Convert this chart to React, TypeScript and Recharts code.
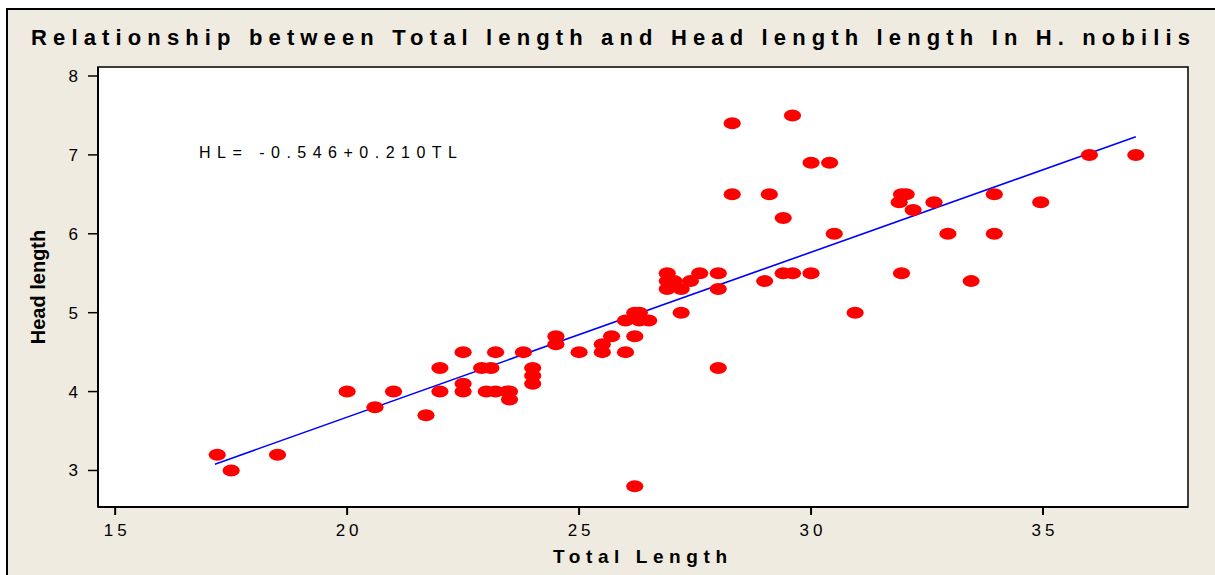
import { ScatterChart, Scatter, XAxis, YAxis, CartesianGrid } from "recharts";

// Total length (TL) and head length (HL) of H. nobilis
const totalLength = [
  17.2, 17.5, 18.5, 20.0, 20.6, 21.0, 21.7, 22.0, 22.0, 22.5,
  22.5, 22.5, 22.9, 23.1, 23.0, 23.2, 23.2, 23.45, 23.5, 23.5,
  23.8, 24.0, 24.0, 24.0, 24.5, 24.5, 25.0, 25.5, 25.5, 25.7,
  26.0, 26.0, 26.2, 26.2, 26.3, 26.3, 26.5, 26.2, 26.9, 26.9,
  26.9, 27.05, 27.2, 27.2, 27.4, 27.6, 28.0, 28.0, 28.0, 28.3,
  28.3, 29.0, 29.1, 29.4, 29.4, 29.6, 29.6, 30.0, 30.0, 30.4,
  30.5, 30.95, 31.95, 32.05, 31.9, 31.95, 32.2, 32.65, 32.95, 33.45,
  33.95, 33.95, 34.95, 36.0, 37.0,
];
const headLength = [
  3.2, 3.0, 3.2, 4.0, 3.8, 4.0, 3.7, 4.3, 4.0, 4.5,
  4.1, 4.0, 4.3, 4.3, 4.0, 4.5, 4.0, 4.0, 3.9, 4.0,
  4.5, 4.3, 4.2, 4.1, 4.7, 4.6, 4.5, 4.6, 4.5, 4.7,
  4.5, 4.9, 4.7, 5.0, 5.0, 4.9, 4.9, 2.8, 5.5, 5.4,
  5.3, 5.4, 5.3, 5.0, 5.4, 5.5, 5.5, 5.3, 4.3, 7.4,
  6.5, 5.4, 6.5, 6.2, 5.5, 5.5, 7.5, 6.9, 5.5, 6.9,
  6.0, 5.0, 6.5, 6.5, 6.4, 5.5, 6.3, 6.4, 6.0, 5.4,
  6.5, 6.0, 6.4, 7.0, 7.0,
];

// ends of the fitted line HL = -0.546 + 0.210 TL, as drawn
const fitTotalLength = [17.15, 37.0];
const fitHeadLength = [3.08, 7.23];

const xTicks = [15, 20, 25, 30, 35];
const yTicks = [3, 4, 5, 6, 7, 8];

const points = totalLength.map((tl, i) => ({ tl, hl: headLength[i] }));
const fitLine = fitTotalLength.map((tl, i) => ({ tl, hl: fitHeadLength[i] }));

const FONT = "'Liberation Sans', Arial, Helvetica, sans-serif";

const RedDot = (props: any) => (
  <ellipse cx={props.cx} cy={props.cy} rx={8.6} ry={6} fill="#ff0000" />
);

const XTick = ({ x, y, payload }: any) => (
  <text x={x + 2} y={y} dy={19} textAnchor="middle" fill="#000" fontSize={17} fontFamily={FONT} letterSpacing={4}>
    {payload.value}
  </text>
);

const YTick = ({ x, y, payload }: any) => (
  <text x={x} y={y} dy={6} textAnchor="end" fill="#000" fontSize={17} fontFamily={FONT}>
    {payload.value}
  </text>
);

export default function App() {
  return (
    <div style={{ position: "absolute", left: 0, top: 0, width: 1215, height: 575, background: "#fff" }}>
      <div
        style={{
          position: "absolute",
          left: 6,
          top: 8,
          right: 0,
          bottom: 0,
          background: "#efebe1",
          borderTop: "2px solid #000",
          borderLeft: "2px solid #000",
        }}
      />
      <div style={{ position: "absolute", left: 0, top: 0 }}>
        <ScatterChart width={1215} height={575} margin={{ top: 67, right: 27, bottom: 33, left: 38 }}>
          <CartesianGrid fill="#ffffff" horizontal={false} vertical={false} />
          <XAxis
            type="number"
            dataKey="tl"
            domain={[14.63, 38.125]}
            ticks={xTicks}
            height={35}
            tickSize={8}
            tickMargin={2}
            axisLine={{ stroke: "#000", strokeWidth: 2 }}
            tickLine={{ stroke: "#000", strokeWidth: 2 }}
            tick={<XTick />}
            allowDataOverflow
          />
          <YAxis
            type="number"
            dataKey="hl"
            domain={[2.537, 8.114]}
            ticks={yTicks}
            width={60}
            tickSize={10}
            tickMargin={10}
            axisLine={{ stroke: "#000", strokeWidth: 2 }}
            tickLine={{ stroke: "#000", strokeWidth: 1.5 }}
            tick={<YTick />}
            allowDataOverflow
          />
          <Scatter
            data={fitLine}
            line={{ stroke: "#0000ff", strokeWidth: 1.6 }}
            shape={() => <g />}
            isAnimationActive={false}
          />
          <Scatter data={points} shape={<RedDot />} isAnimationActive={false} />
        </ScatterChart>
      </div>
      <svg width={1215} height={575} style={{ position: "absolute", left: 0, top: 0, pointerEvents: "none" }}>
        <rect x={98} y={67} width={1090} height={440} fill="none" stroke="#000" strokeWidth={1.5} />
        <text x={31} y={45} textLength={1159} lengthAdjust="spacing" fontSize={22} fontWeight="bold" fontFamily={FONT} fill="#000">
          Relationship between Total  length and Head length length In H. nobilis
        </text>
        <text x={199} y={158} textLength={258} lengthAdjust="spacing" fontSize={16} fontFamily={FONT} fill="#000">
          HL= -0.546+0.210TL
        </text>
        <text x={553} y={563} textLength={174} lengthAdjust="spacing" fontSize={19} fontWeight="bold" fontFamily={FONT} fill="#000">
          Total Length
        </text>
        <text
          x={0}
          y={0}
          transform="translate(45 287) rotate(-90)"
          textAnchor="middle"
          fontSize={20}
          fontWeight="bold"
          fontFamily={FONT}
          fill="#000"
        >
          Head length
        </text>
      </svg>
    </div>
  );
}
